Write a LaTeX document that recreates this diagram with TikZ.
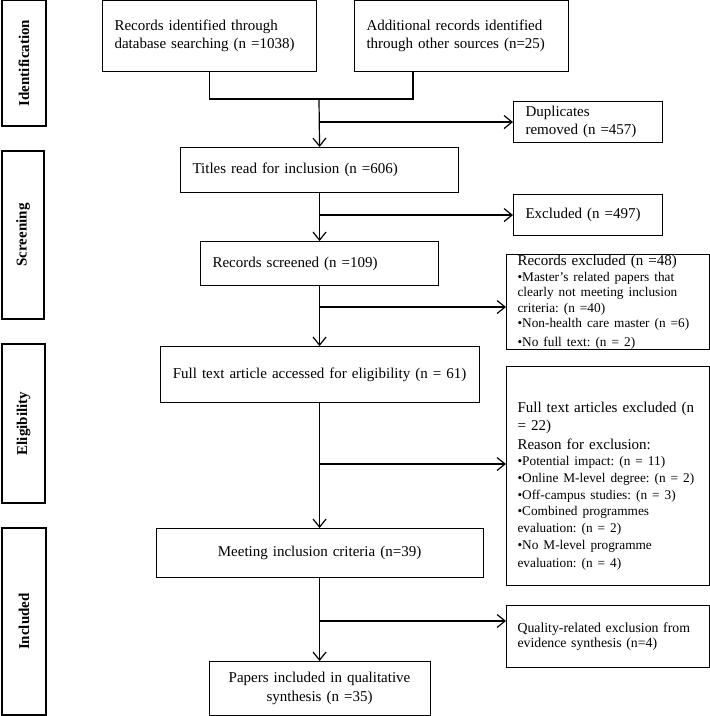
\documentclass[tikz,border=0pt]{standalone}
\usepackage{fontspec}
\setmainfont{Liberation Serif}
\usetikzlibrary{arrows.meta,positioning}
\newcommand{\boxfont}{\fontsize{15}{18.3}\selectfont}
\newcommand{\listfont}{\fontsize{13.3}{16.7}\selectfont}
\newcommand{\tightfont}{\fontsize{13.3}{15.6}\selectfont}
\frenchspacing

\begin{document}
\begin{tikzpicture}[
  x=1pt,y=-1pt,
  box/.style={draw,line width=1.1pt,anchor=north west,inner xsep=12pt,inner ysep=0pt,align=left,font=\boxfont},
  midbox/.style={box,align=center},
  sidebox/.style={box,anchor=center,rotate=90,align=center,font=\boxfont\bfseries},
  arr/.style={-{Straight Barb[length=8pt,width=13pt]},line width=1.2pt},
  link/.style={line width=1.2pt}
  ]
  \useasboundingbox (0,0) rectangle (710,716);

  % stages
  \node[sidebox,minimum width=126pt,minimum height=44pt] (ident) at (24,63) {Identification};
  \node[sidebox,minimum width=168pt,minimum height=42pt] (screen) at (23,235) {Screening};
  \node[sidebox,minimum width=159pt,minimum height=43pt] (elig) at (23.5,423.5) {Eligibility};
  \node[sidebox,minimum width=187pt,minimum height=44pt] (incl) at (24,621.5) {Included};

  % main column
  \node[box,text width=190pt,minimum height=71pt] (db) at (102,0) {Records identified through\\database searching (n =1038)};
  \node[box,text width=190pt,minimum height=71pt] (other) at (354,0) {Additional records identified\\through other sources (n=25)};
  \node[box,text width=254pt,minimum height=45pt] (titles) at (180,147) {Titles read for inclusion (n =606)};
  \node[box,text width=214pt,minimum height=44pt] (screened) at (200,241) {Records screened (n =109)};
  \node[midbox,text width=295pt,minimum height=56pt] (fulltext) at (159.5,346) {Full text article accessed for eligibility (n = 61)};
  \node[midbox,text width=303pt,minimum height=49pt] (meeting) at (155.5,528) {Meeting inclusion criteria (n=39)};
  \node[midbox,text width=197pt,minimum height=54pt] (papers) at (208.5,661) {Papers included in qualitative\\synthesis (n =35)};

  % exclusions
  \node[box,text width=125pt,minimum height=41pt] (dup) at (513,101) {Duplicates\\removed (n =457)};
  \node[box,text width=125pt,minimum height=41pt] (excl) at (513,194) {Excluded (n =497)};
  \node[box,inner xsep=11pt,text width=181pt,minimum height=95pt] (recexcl) at (506,254) {Records excluded (n =48)\par\tightfont
    •Master's related papers that\\clearly not meeting inclusion\\criteria: (n =40)\\•Non-health care master (n =6)\\•No full text: (n = 2)};
  \node[box,inner xsep=11pt,text width=181pt,minimum height=219pt] (ftexcl) at (506,366) {\rule{0pt}{31pt}Full text articles excluded (n\\= 22)\\Reason for exclusion:\par\listfont
    •Potential impact: (n = 11)\\•Online M-level degree: (n = 2)\\•Off-campus studies: (n = 3)\\•Combined programmes\\evaluation: (n = 2)\\•No M-level programme\\evaluation: (n = 4)};
  \node[box,inner xsep=11pt,text width=181pt,minimum height=62pt,font=\fontsize{13.8}{15.5}\selectfont] (quality) at (506,605) {Quality-related exclusion from\\evidence synthesis (n=4)};

  \coordinate (merge) at (319,99);
  \coordinate (rt) at (413,99);
  \coordinate (b3) at (319,307);
  \coordinate (b4) at (319,464);
  \coordinate (b5) at (319,621);

  \draw[link] (db.south) |- (rt) -- (rt |- other.south);
  \draw[arr] (merge) -- (titles.north);
  \draw[arr] (merge |- dup.west) -- (dup.west);
  \draw[arr] (titles.south) -- (screened.north);
  \draw[arr] (titles.south |- excl.west) -- (excl.west);
  \draw[arr] (screened.south) -- (fulltext.north);
  \draw[arr] (b3) -- (b3 -| recexcl.west);
  \draw[arr] (fulltext.south) -- (meeting.north);
  \draw[arr] (b4) -- (b4 -| ftexcl.west);
  \draw[arr] (meeting.south) -- (papers.north);
  \draw[arr] (b5) -- (b5 -| quality.west);

\end{tikzpicture}
\end{document}
